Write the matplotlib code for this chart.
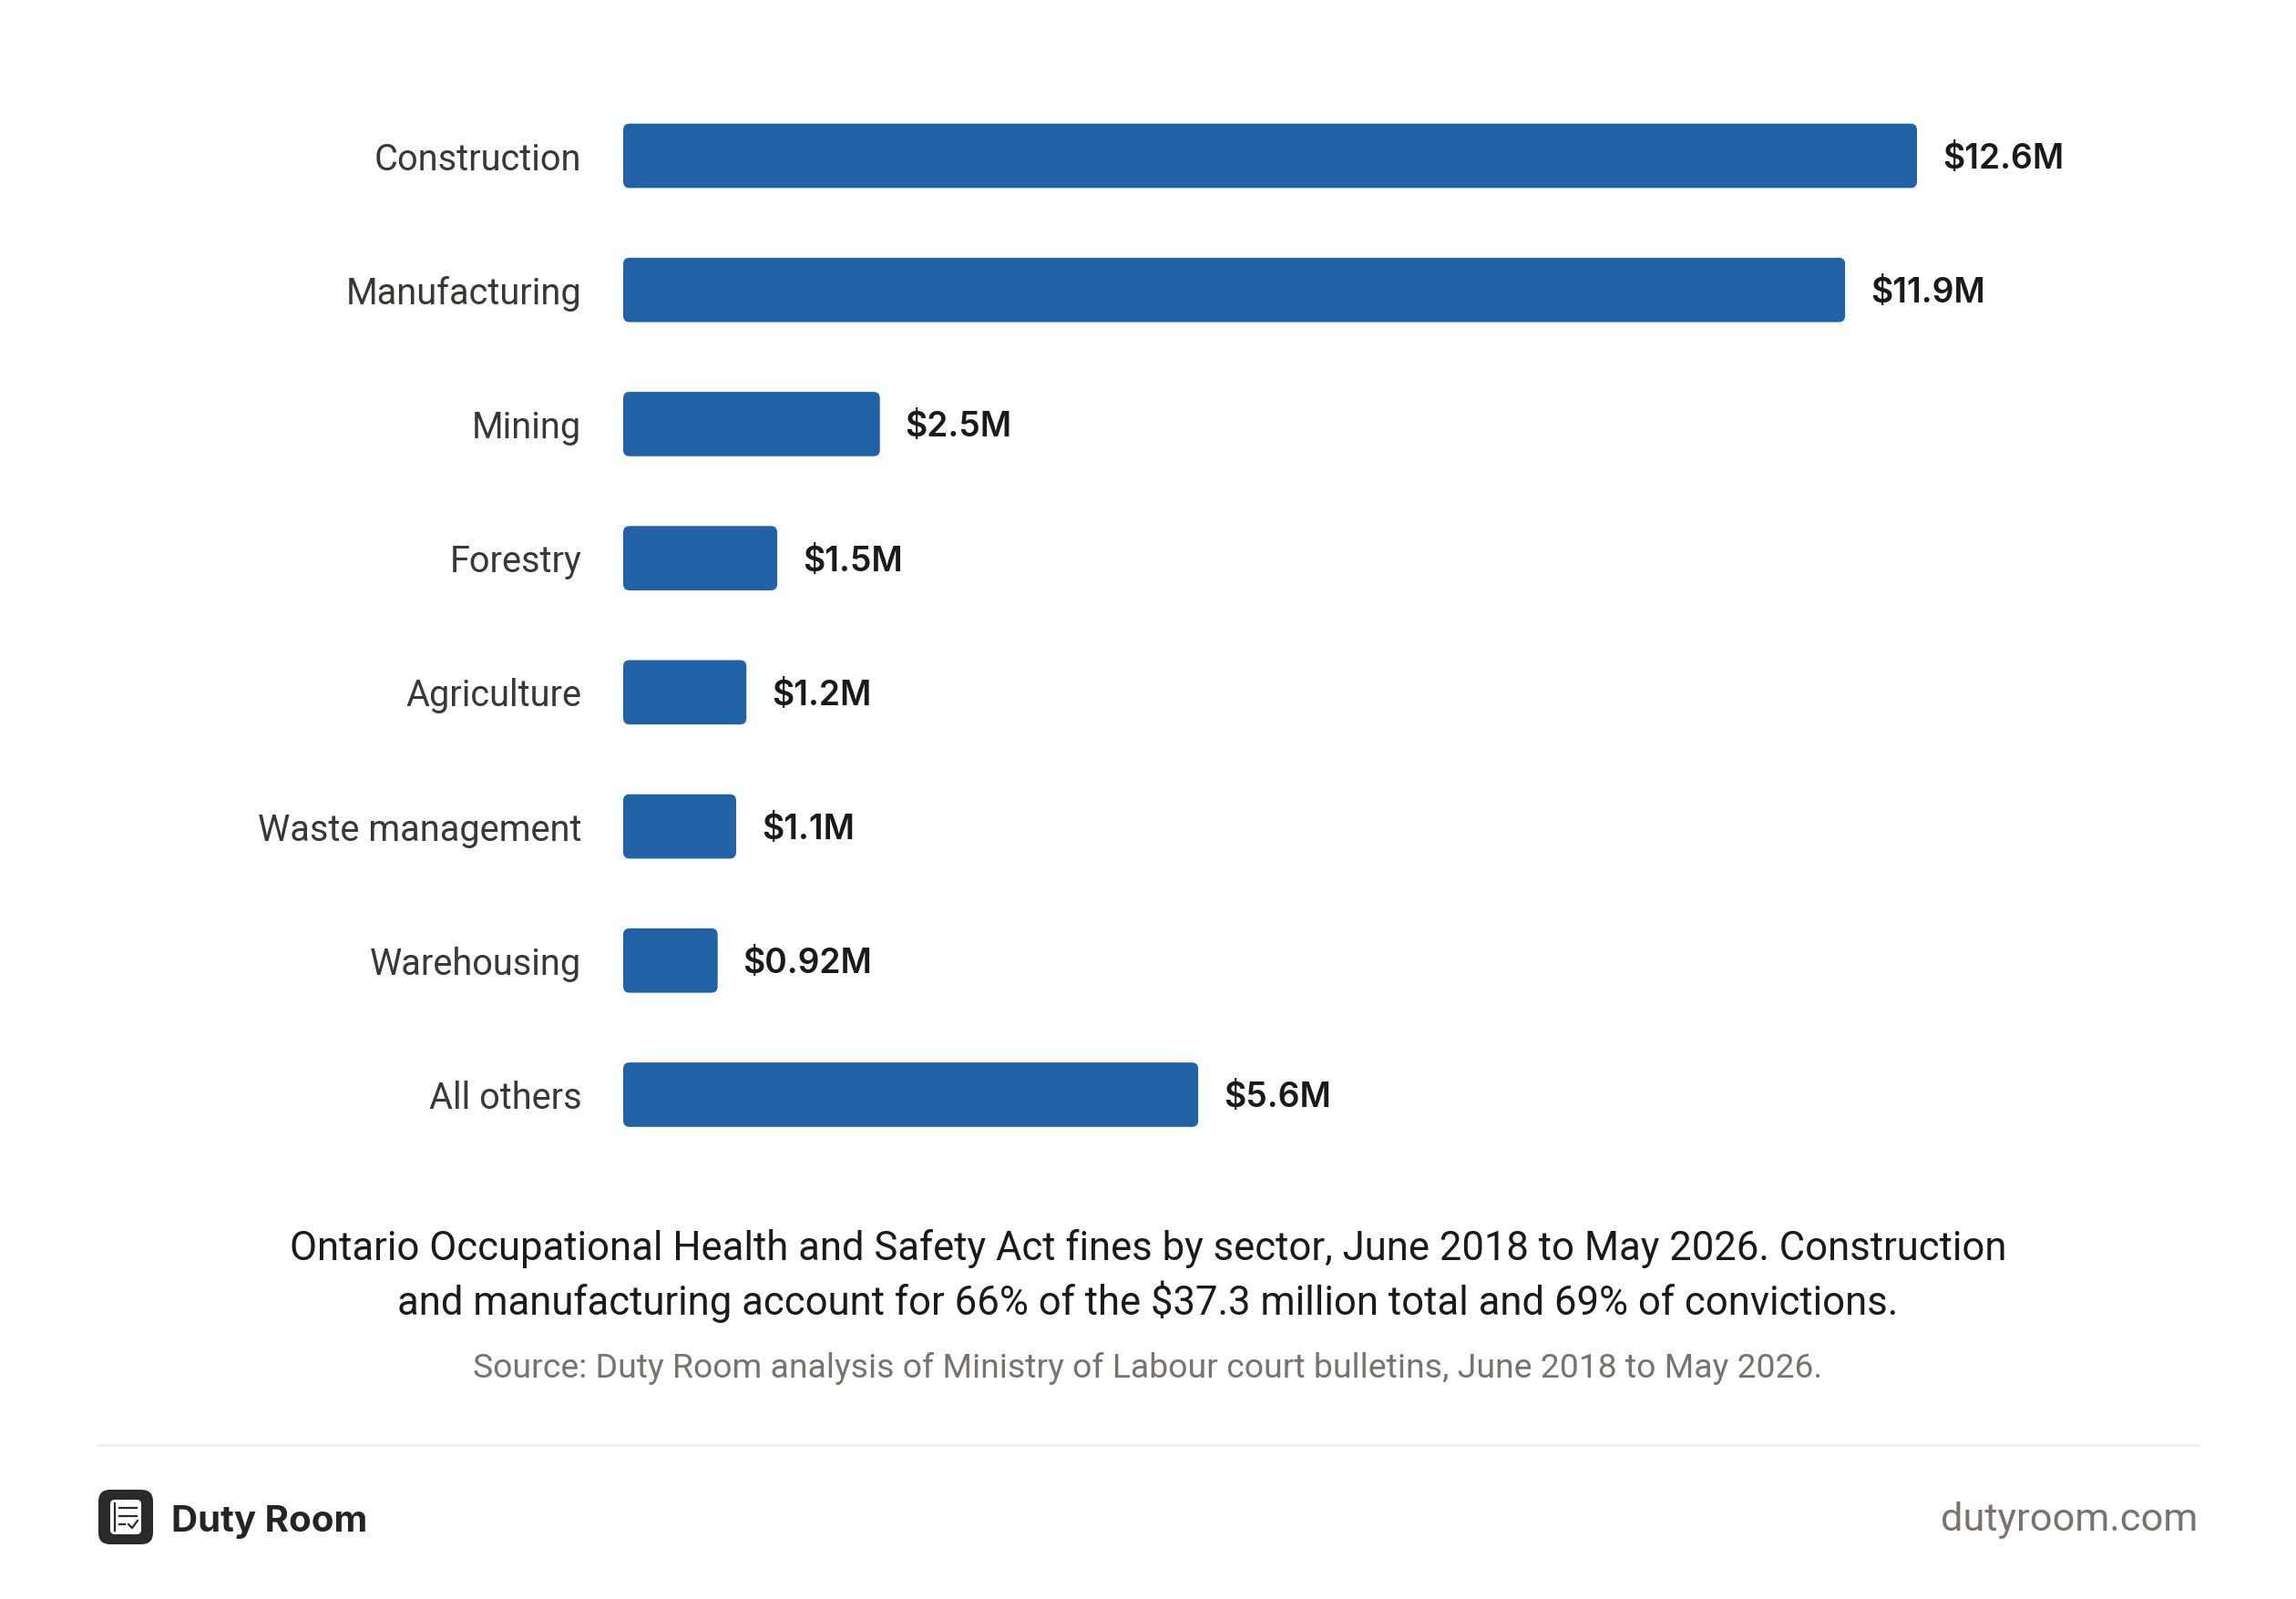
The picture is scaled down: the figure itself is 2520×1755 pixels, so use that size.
import matplotlib
matplotlib.use("Agg")
import matplotlib.pyplot as plt
from matplotlib.patches import FancyBboxPatch
from matplotlib.lines import Line2D

# ---- data ----
sectors = ["Construction", "Manufacturing", "Mining", "Forestry", "Agriculture",
           "Waste management", "Warehousing", "All others"]
fines_musd = [12.6, 11.9, 2.5, 1.5, 1.2, 1.1, 0.92, 5.6]
value_labels = ["$12.6M", "$11.9M", "$2.5M", "$1.5M", "$1.2M", "$1.1M", "$0.92M", "$5.6M"]
caption_lines = ["Ontario Occupational Health and Safety Act fines by sector, June 2018 to May 2026. Construction",
                 "and manufacturing account for 66% of the $37.3 million total and 69% of convictions."]
source = "Source: Duty Room analysis of Ministry of Labour court bulletins, June 2018 to May 2026."
brand = "Duty Room"
site = "dutyroom.com"

W, H, DPI = 2520, 1755, 100
BAR = "#2161a6"
LABEL = "#3b3834"
DARK = "#1c1a18"
GRAY = "#7a736d"

fig = plt.figure(figsize=(W / DPI, H / DPI), dpi=DPI, facecolor="white")

# main axes in pixel layout
XMAX = 16.0
ax_left, ax_right = 684, 684 + XMAX * 112.7
ax_top, ax_bottom = 97.4, 1275.1
ax = fig.add_axes([ax_left / W, 1 - ax_bottom / H, (ax_right - ax_left) / W, (ax_bottom - ax_top) / H])
ax.set_xlim(0, XMAX)
ax.set_ylim(len(sectors) - 0.5, -0.5)
for s in ax.spines.values():
    s.set_visible(False)
ax.set_xticks([])
ax.set_yticks(range(len(sectors)))
ax.set_yticklabels(sectors, fontfamily="Roboto", fontsize=28.6, color=LABEL)
for t in ax.get_yticklabels():
    t.set_verticalalignment("center_baseline")
ax.tick_params(axis="y", length=0, pad=33)

bars = ax.barh(range(len(sectors)), fines_musd, height=0.48, color=BAR)

# rounded corners: replace bars with rounded boxes
px_per_x = (ax_right - ax_left) / XMAX
px_per_y = (ax_bottom - ax_top) / len(sectors)
r_px = 7.0
r_x = r_px / px_per_x
aspect = (r_px / px_per_y) / r_x
for b in bars:
    x0, y0 = b.get_x(), b.get_y()
    w, h = b.get_width(), b.get_height()
    b.set_visible(False)
    p = FancyBboxPatch((x0, y0), w, h, boxstyle=f"round,pad=0,rounding_size={r_x}",
                       mutation_aspect=aspect, facecolor=BAR, edgecolor="none")
    ax.add_patch(p)

for i, (v, lab) in enumerate(zip(fines_musd, value_labels)):
    ax.annotate(lab, xy=(v, i), xytext=(20, 0), textcoords="offset points",
                ha="left", va="center_baseline", fontsize=26.8, fontfamily="Inter",
                fontweight="semibold", color=DARK)

# overlay axes in pixel coordinates for the caption and footer
ov = fig.add_axes([0, 0, 1, 1], facecolor="none")
ov.set_xlim(0, W)
ov.set_ylim(H, 0)
ov.axis("off")

for k, line in enumerate(caption_lines):
    ov.text(1260, 1383 + 60 * k, line, ha="center", va="baseline", fontsize=31.4,
            fontfamily="Roboto", color=DARK)
ov.text(1260, 1512, source, ha="center", va="baseline", fontsize=26.9, fontfamily="Roboto",
        color=GRAY)

ov.add_line(Line2D([108, 2412], [1586, 1586], color="#efefef", lw=2.2))

# logo
ov.add_patch(FancyBboxPatch((108, 1635), 60, 60, boxstyle="round,pad=0,rounding_size=13",
                            facecolor="#2b2a29", edgecolor="none"))
ov.add_patch(FancyBboxPatch((121, 1646), 34, 38, boxstyle="round,pad=0,rounding_size=5",
                            facecolor="white", edgecolor="none"))
icon = "#2b2a29"
ov.add_line(Line2D([126, 126], [1650, 1680], color=icon, lw=1.6))
ov.add_line(Line2D([131, 150], [1655, 1655], color=icon, lw=1.6))
ov.add_line(Line2D([131, 150], [1664, 1664], color=icon, lw=1.6))
ov.add_line(Line2D([131, 137], [1673, 1673], color=icon, lw=1.6))
ov.add_line(Line2D([141, 145, 151], [1673, 1677, 1669], color=icon, lw=1.6))

ov.text(188, 1681, brand, ha="left", va="baseline", fontsize=29, fontfamily="Inter",
        fontweight="bold", color="#262422")
ov.text(2412, 1680, site, ha="right", va="baseline", fontsize=31.2, fontfamily="Roboto",
        color=GRAY)

fig.savefig("out.png", dpi=DPI, facecolor="white")
